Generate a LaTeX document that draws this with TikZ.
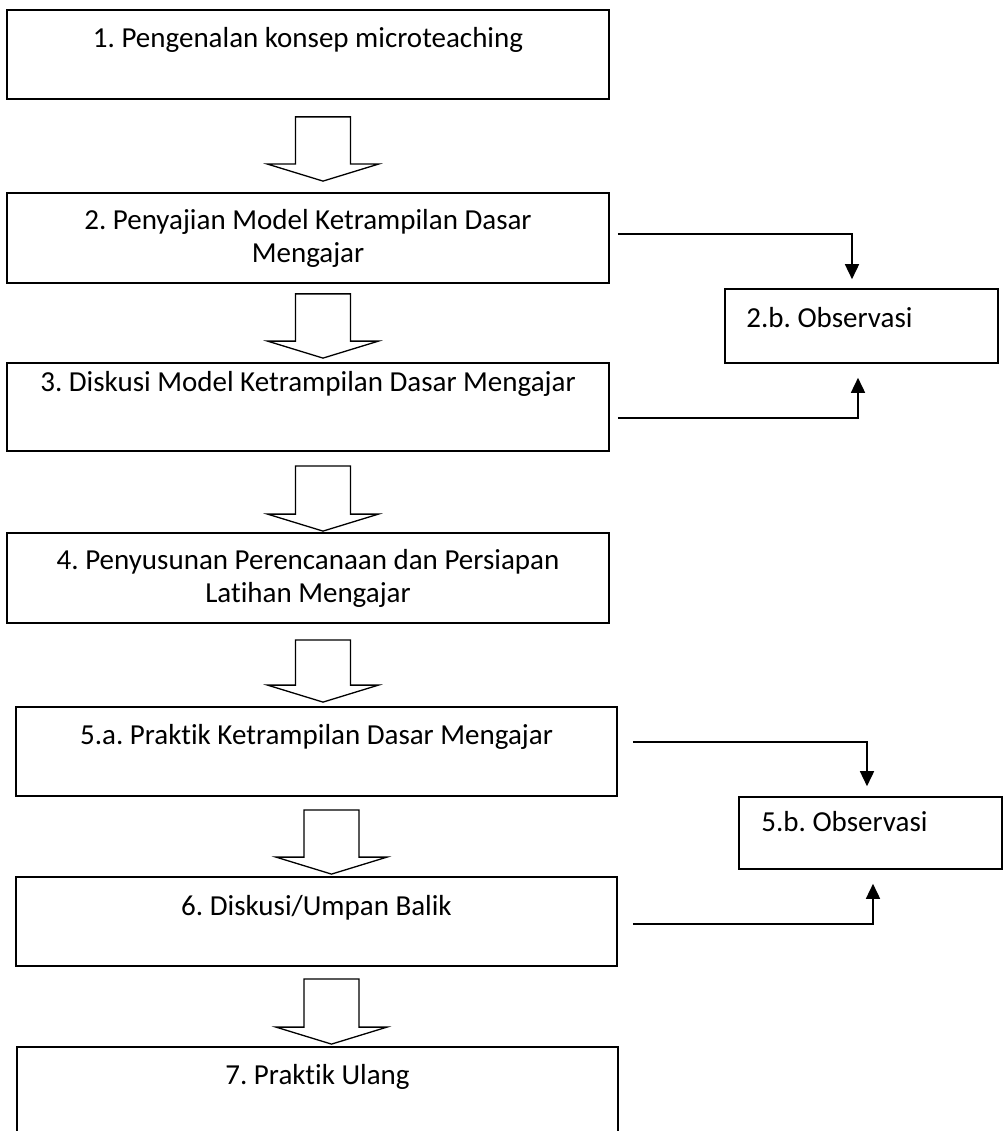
\documentclass[tikz,border=0pt]{standalone}
\usepackage{fontspec}
\setmainfont{Carlito}[Ligatures={NoCommon}]
\frenchspacing
\usepackage{tikz}
\usetikzlibrary{calc,arrows.meta}
\definecolor{ink}{HTML}{000000}
\definecolor{paper}{HTML}{FFFFFF}
\tikzset{
  stepbox/.style={draw=ink, line width=1.8pt, minimum width=602pt, minimum height=89pt, inner sep=0pt},
  obsbox/.style={draw=ink, line width=1.6pt, inner sep=0pt},
  lab/.style={text=ink, font=\fontsize{29}{33}\selectfont, inner sep=0pt, anchor=base},
  fat/.style={draw=ink, line width=1.3pt, line join=miter, fill=paper},
  link/.style={draw=ink, line width=1.6pt, -{Triangle[length=15pt,width=14pt]}},
}
% hollow block arrow between two boxes: from, to, gap below, gap above
\newcommand{\fatarrow}[4]{%
  \draw[fat] let \p1=($(#1.south)+(15,0)$), \p2=($(#2.north)+(15,0)$) in
    (\x1-27.5pt,\y1-#3pt) -- (\x1+27.5pt,\y1-#3pt) -- (\x1+27.5pt,\y2+#4pt+17pt)
    -- (\x1+55.5pt,\y2+#4pt+17pt) -- (\x1,\y2+#4pt) -- (\x1-55.5pt,\y2+#4pt+17pt)
    -- (\x1-27.5pt,\y2+#4pt+17pt) -- cycle;}

\begin{document}
\begin{tikzpicture}[x=1pt, y=-1pt]
  \useasboundingbox (0,0) rectangle (1005,1131);

  % main steps
  \node[stepbox] (s1) at (308,54.5) {};
  \node[stepbox, minimum height=90pt] (s2) at (308,238) {};
  \node[stepbox, minimum height=88pt] (s3) at (308,407) {};
  \node[stepbox, minimum height=90pt] (s4) at (308,578) {};
  \node[stepbox, minimum width=601pt] (s5) at (316.5,751.5) {};
  \node[stepbox, minimum width=601pt] (s6) at (316.5,921.5) {};
  \node[stepbox, minimum width=601pt] (s7) at (317.5,1091.5) {};

  \node[lab] (t1) at ($(s1.north)+(0,38)$) {1. Pengenalan konsep microteaching};
  \node[lab] (t2) at ($(s2.north)+(0,37)$) {2. Penyajian Model Ketrampilan Dasar};
  \node[lab] (t2b) at ($(t2.base)+(0,33)$) {Mengajar};
  \node[lab] (t3) at ($(s3.north)+(0,29)$) {3. Diskusi Model Ketrampilan Dasar Mengajar};
  \node[lab] (t4) at ($(s4.north)+(0,37)$) {4. Penyusunan Perencanaan dan Persiapan};
  \node[lab] (t4b) at ($(t4.base)+(0,33)$) {Latihan Mengajar};
  \node[lab] (t5) at ($(s5.north)+(0,38)$) {5.a. Praktik Ketrampilan Dasar Mengajar};
  \node[lab] (t6) at ($(s6.north)+(0,39)$) {6. Diskusi/Umpan Balik};
  \node[lab] (t7) at ($(s7.north)+(0,38)$) {7. Praktik Ulang};

  % observation boxes
  \node[obsbox, minimum width=273pt, minimum height=74pt] (o2) at (861.5,326) {};
  \node[obsbox, minimum width=263pt, minimum height=72pt] (o5) at (870.5,833) {};
  \node[lab, anchor=base west] (t2o) at ($(o2.north west)+(22,39)$) {2.b. Observasi};
  \node[lab, anchor=base west] (t5o) at ($(o5.north west)+(23,35)$) {5.b. Observasi};

  % block arrows
  \fatarrow{s1}{s2}{17}{11}
  \fatarrow{s2}{s3}{10}{4}
  \fatarrow{s3}{s4}{14}{1}
  \fatarrow{s4}{s5}{16}{4}
  \fatarrow{s5}{s6}{13}{2}
  \fatarrow{s6}{s7}{12}{2}

  % links to observation
  \draw[link] ($(s2.east)+(8,-4)$) -| ($(o2.north)+(-9.5,-9)$);
  \draw[link] ($(s3.east)+(8,11)$) -| ($(o2.south)+(-3.5,14)$);
  \draw[link] ($(s5.east)+(15,-9.5)$) -| ($(o5.north)+(-3.5,-10)$);
  \draw[link] ($(s6.east)+(15,2.5)$) -| ($(o5.south)+(2.5,14)$);
\end{tikzpicture}
\end{document}
